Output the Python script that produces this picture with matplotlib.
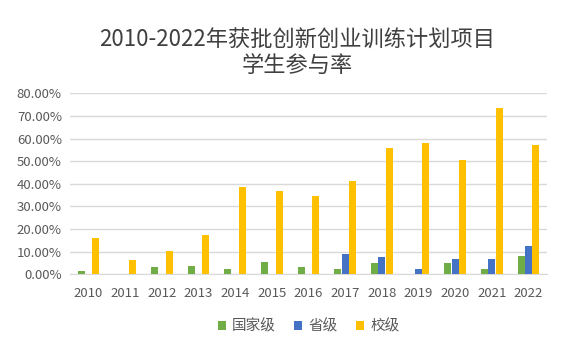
import numpy as np
import matplotlib
matplotlib.use("Agg")
import matplotlib.pyplot as plt
from matplotlib.ticker import PercentFormatter

plt.rcParams['font.family'] = ['Noto Sans CJK SC', 'DejaVu Sans']

years = ['2010', '2011', '2012', '2013', '2014', '2015', '2016',
         '2017', '2018', '2019', '2020', '2021', '2022']
national = [1.5, 0, 3.2, 3.7, 2.2, 5.3, 3.2, 2.2, 4.9, 0, 4.9, 2.2, 8.0]
provincial = [0, 0, 0, 0, 0, 0, 0, 8.9, 7.6, 2.2, 6.6, 6.6, 12.4]
school = [16.1, 6.3, 10.3, 17.4, 38.6, 36.9, 34.6, 41.3, 55.9, 58.1, 50.6, 73.6, 57.2]
series_names = ['国家级', '省级', '校级']
colors = ['#70AD47', '#4472C4', '#FFC000']

text_c = '#595959'

fig = plt.figure(figsize=(5.66, 3.51), dpi=100)
ax = fig.add_axes([0.124, 0.219, 0.842, 0.515])

x = np.arange(len(years))
w = 0.2
for i, (vals, name, c) in enumerate(zip([national, provincial, school], series_names, colors)):
    ax.bar(x + (i - 1) * w, vals, width=w * 0.95, color=c, label=name, zorder=3)

ax.set_xlim(-0.5, len(years) - 0.5)
ax.set_ylim(0, 80)
ax.set_yticks(np.arange(0, 81, 10))
ax.yaxis.set_major_formatter(PercentFormatter(decimals=2))
ax.set_xticks(x)
ax.set_xticklabels(years)
ax.grid(axis='y', color='#D9D9D9', linewidth=1, zorder=0)
for s in ['top', 'right', 'left']:
    ax.spines[s].set_visible(False)
ax.spines['bottom'].set_color('#D9D9D9')
ax.tick_params(length=0, labelsize=9.5, colors=text_c, pad=9)
ax.tick_params(axis='y', pad=6)

fig.text(0.525, 0.85, '2010-2022年获批创新创业训练计划项目\n学生参与率',
         ha='center', va='center', fontsize=16, color='#404040', linespacing=1.15)

ax.legend(loc='upper center', bbox_to_anchor=(0.5, -0.175), ncol=3, frameon=False,
          fontsize=10.5, labelcolor=text_c, handlelength=0.55, handleheight=0.55,
          handletextpad=0.4, columnspacing=1.3)

fig.savefig('out.png', dpi=100)
